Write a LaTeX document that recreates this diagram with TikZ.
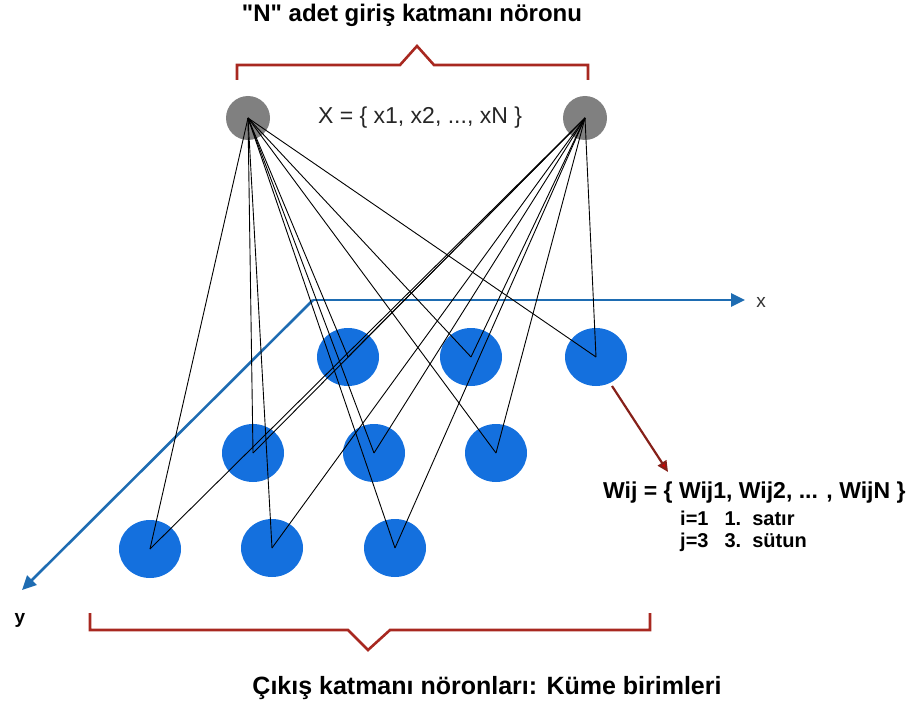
\documentclass[tikz,border=0pt]{standalone}
\usepackage{fontspec}
\setmainfont{Liberation Sans}
\usetikzlibrary{arrows,arrows.meta,shapes.geometric,positioning,calc}

\definecolor{noronmavi}{RGB}{20,112,222}
\definecolor{eksenmavi}{RGB}{30,108,178}
\definecolor{parantez}{RGB}{168,40,32}
\definecolor{girisgri}{RGB}{128,128,128}

\tikzset{
  giris/.style={circle, fill=girisgri, minimum size=44pt, inner sep=0pt},
  cikis/.style={ellipse, fill=noronmavi, minimum width=62pt, minimum height=58pt, inner sep=0pt},
  baglanti/.style={black, line width=0.9pt},
  eksenok/.style={eksenmavi, line width=2.6pt, -{Triangle[length=14pt,width=13pt]}},
  kume/.style={parantez, line width=2.6pt},
  yazi/.style={inner sep=0pt, font=\bfseries\fontsize{19}{22}\selectfont},
}

\begin{document}
\begin{tikzpicture}[x=1pt,y=-1pt]
        \useasboundingbox (0,0) rectangle (919,706);
        % eksenler
        \coordinate (O) at (313,300);
        \coordinate (xuc) at (745,300);
        \coordinate (yuc) at (22,590);
        \draw[eksenok] (O) -- (xuc);
        \draw[eksenok] (O) -- (yuc);
        \node[yazi, font=\fontsize{19}{22}\selectfont, black!80] (xetiket) at (761,302) {x};
        \node[yazi] (yetiket) at (20,620) {y};
        % giris noronlari
        \node[giris] (g1) at (248,118) {};
        \node[giris] (g2) at (585,118) {};
        \node[inner sep=0pt, font=\fontsize{23}{26}\selectfont, black!85] (xkume) at (420,118) {X = \{ x1, x2, ..., xN \}};
        % cikis noronlari
        \node[cikis] (c11) at (348,357) {};
        \node[cikis] (c12) at (471,357) {};
        \node[cikis] (c13) at (596,357) {};
        \node[cikis] (c21) at (253,453) {};
        \node[cikis] (c22) at (374,453) {};
        \node[cikis] (c23) at (496,453) {};
        \node[cikis] (c31) at (150,549) {};
        \node[cikis] (c32) at (272,548) {};
        \node[cikis] (c33) at (395,548) {};
        % baglantilar
        \foreach \g in {g1,g2}
          \foreach \c in {c11,c12,c13,c21,c22,c23,c31,c32,c33}
            \draw[baglanti] (\g.center) -- (\c.center);
        % ust ve alt parantez
        \draw[kume] (237,80) -- (237,65) -- (400,65) -- (417,46) -- (434,65) -- (588,65) -- (588,80);
        \draw[kume] (90,613) -- (90,630) -- (348,630) -- (368,650) -- (390,630) -- (650,630) -- (650,613);
        \node[yazi, anchor=base, font=\bfseries\fontsize{24}{28}\selectfont] (ustbaslik) at (412,22) {\textquotedbl N\textquotedbl{} adet giriş katmanı nöronu};
        \node[yazi, anchor=base, font=\bfseries\fontsize{25}{28}\selectfont] (altbaslik) at (487,694) {Çıkış katmanı nöronları: Küme birimleri};
        % agirlik vektoru
        \coordinate (okbas) at (612,386);
        \coordinate (okuc) at (668,472);
        \draw[parantez!80!black, line width=2.2pt, -{Triangle[length=11pt,width=10pt,fill=red!85!black]}] (okbas) -- (okuc);
        \node[yazi, anchor=base west, font=\bfseries\fontsize{23}{26}\selectfont] (wij) at (603,498) {Wij = \{ Wij1, Wij2, ... , WijN \}};
        \node[yazi, anchor=north west, font=\bfseries\fontsize{20}{22}\selectfont] (indis) at (680,510)
          {\begin{tabular}{@{}l@{\hspace{16pt}}l@{}}i=1 & 1.\ \ satır\\ j=3 & 3.\ \ sütun\end{tabular}};
      \end{tikzpicture}
\end{document}
